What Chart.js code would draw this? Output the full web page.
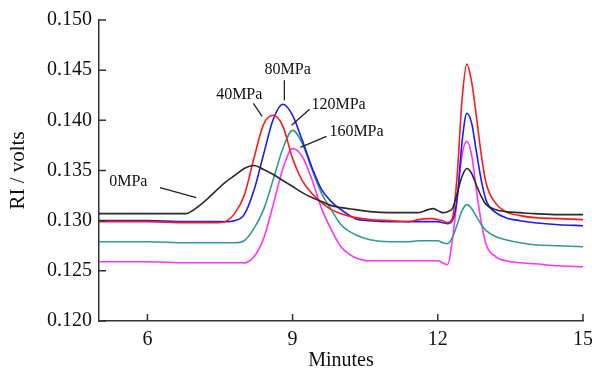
<!DOCTYPE html>
<html>
<head>
<meta charset="utf-8">
<script src="https://cdn.jsdelivr.net/npm/chart.js@4.4.1/dist/chart.umd.min.js"></script>
<style>
  html, body { margin: 0; padding: 0; background: #fff; }
  #wrap { width: 592px; height: 370px; }
</style>
</head>
<body>
<div id="wrap"><canvas id="chart" width="592" height="370"></canvas></div>
<script>
// retention time (minutes), shared by all traces
const minutes = [5, 6, 6.8, 6.9, 7.2, 7.4, 7.6, 7.8, 8.0, 8.2, 8.4, 8.6, 8.8, 9.0, 9.2, 9.4, 9.6, 9.8, 10.0,
  10.3, 10.6, 11.0, 11.4, 11.6, 11.8, 11.9, 12.0, 12.1, 12.2, 12.3, 12.4, 12.5, 12.6, 12.7, 12.8, 12.9,
  13.0, 13.2, 13.4, 13.7, 14.0, 14.5, 15];

// RI signal (volts) per pressure
const ri0 = [0.1307, 0.1307, 0.1307, 0.1309, 0.1320, 0.1329, 0.1338, 0.1345, 0.1352, 0.1355, 0.1351, 0.1346, 0.1340, 0.1334, 0.1328, 0.1323, 0.1319, 0.1315, 0.1313,
  0.1311, 0.1309, 0.1308, 0.1308, 0.1308, 0.1311, 0.1312, 0.1310, 0.1308, 0.1309, 0.1312, 0.1327, 0.1344, 0.1352, 0.1347, 0.1335, 0.1324,
  0.1316, 0.1311, 0.1309, 0.1308, 0.1307, 0.1306, 0.1306];
const ri40 = [0.1299, 0.1299, 0.1298, 0.1298, 0.1298, 0.1298, 0.1299, 0.1307, 0.1325, 0.1362, 0.1396, 0.1405, 0.1394, 0.1362, 0.1340, 0.1327, 0.1318, 0.1311, 0.1307,
  0.1303, 0.1301, 0.1300, 0.1299, 0.1301, 0.1302, 0.1302, 0.1301, 0.1300, 0.1298, 0.1302, 0.1345, 0.1420, 0.1456, 0.1438, 0.1403, 0.1365,
  0.1337, 0.1317, 0.1309, 0.1305, 0.1303, 0.1302, 0.1301];
const ri80 = [0.1300, 0.1300, 0.1299, 0.1299, 0.1299, 0.1299, 0.1299, 0.1300, 0.1306, 0.1330, 0.1366, 0.1401, 0.1416, 0.1405, 0.1380, 0.1353, 0.1331, 0.1319, 0.1311,
  0.1302, 0.1300, 0.1299, 0.1299, 0.1299, 0.1299, 0.1299, 0.1299, 0.1298, 0.1297, 0.1300, 0.1322, 0.1378, 0.1407, 0.1397, 0.1368, 0.1340,
  0.1320, 0.1308, 0.1303, 0.1300, 0.1298, 0.1296, 0.1295];
const ri120 = [0.1279, 0.1279, 0.1278, 0.1278, 0.1278, 0.1278, 0.1278, 0.1278, 0.1280, 0.1292, 0.1311, 0.1341, 0.1372, 0.1390, 0.1377, 0.1351, 0.1327, 0.1311, 0.1296,
  0.1286, 0.1281, 0.1279, 0.1279, 0.1280, 0.1280, 0.1280, 0.1280, 0.1278, 0.1277, 0.1283, 0.1296, 0.1310, 0.1316, 0.1312, 0.1304, 0.1296,
  0.1290, 0.1284, 0.1281, 0.1278, 0.1276, 0.1275, 0.1274];
const ri160 = [0.1259, 0.1259, 0.1258, 0.1258, 0.1258, 0.1258, 0.1258, 0.1258, 0.1258, 0.1264, 0.1282, 0.1316, 0.1352, 0.1372, 0.1364, 0.1341, 0.1312, 0.1291, 0.1274,
  0.1263, 0.1260, 0.1260, 0.1260, 0.1260, 0.1260, 0.1260, 0.1260, 0.1258, 0.1256, 0.1280, 0.1322, 0.1365, 0.1379, 0.1365, 0.1330, 0.1298,
  0.1276, 0.1264, 0.1260, 0.1258, 0.1257, 0.1255, 0.1254];

const seriesNames = ['0MPa', '40MPa', '80MPa', '120MPa', '160MPa'];
const seriesColors = ['#2b2b2b', '#ff1a1a', '#1a1aff', '#339a96', '#ff33ff'];
const xTickValues = [6, 9, 12, 15];

// label text position and leader line, in data units
const callouts = [
  { text: '0MPa',   tx: 5.21, ty: 0.1339, from: [6.26, 0.1333], to: [7.01, 0.1323] },
  { text: '40MPa',  tx: 7.42, ty: 0.1425, from: [8.19, 0.1417], to: [8.37, 0.1404] },
  { text: '80MPa',  tx: 8.42, ty: 0.1450, from: [8.83, 0.1440], to: [8.83, 0.1420] },
  { text: '120MPa', tx: 9.39, ty: 0.1415, from: [9.35, 0.1411], to: [8.98, 0.1395] },
  { text: '160MPa', tx: 9.76, ty: 0.1389, from: [9.70, 0.1384], to: [9.16, 0.1373] }
];

const serif = "'Liberation Serif', 'Times New Roman', serif";
const axisColor = '#333';

const traces = [ri0, ri40, ri80, ri120, ri160];
const datasets = traces.map((vals, i) => ({
  label: seriesNames[i],
  data: minutes.map((m, j) => ({ x: m, y: vals[j] })),
  borderColor: seriesColors[i],
  borderWidth: 1.6,
  pointRadius: 0,
  cubicInterpolationMode: 'monotone',
  fill: false
}));

// small ticks drawn inside the plot, like the original figure
const innerTicks = {
  id: 'innerTicks',
  afterDraw(chart) {
    const { ctx, scales: { x, y }, chartArea } = chart;
    ctx.save();
    ctx.strokeStyle = axisColor;
    ctx.lineWidth = 1.5;
    ctx.beginPath();
    x.ticks.forEach(t => {
      const px = x.getPixelForValue(t.value);
      ctx.moveTo(px, chartArea.bottom);
      ctx.lineTo(px, chartArea.bottom - 7);
    });
    y.ticks.forEach(t => {
      const py = y.getPixelForValue(t.value);
      ctx.moveTo(chartArea.left, py);
      ctx.lineTo(chartArea.left + 7, py);
    });
    ctx.stroke();
    ctx.restore();
  }
};

const calloutLabels = {
  id: 'calloutLabels',
  afterDatasetsDraw(chart) {
    const { ctx, scales: { x, y } } = chart;
    ctx.save();
    ctx.strokeStyle = '#222';
    ctx.lineWidth = 1.3;
    ctx.fillStyle = '#111';
    ctx.font = '16px ' + serif;
    ctx.textAlign = 'left';
    ctx.textBaseline = 'middle';
    callouts.forEach(c => {
      ctx.beginPath();
      ctx.moveTo(x.getPixelForValue(c.from[0]), y.getPixelForValue(c.from[1]));
      ctx.lineTo(x.getPixelForValue(c.to[0]), y.getPixelForValue(c.to[1]));
      ctx.stroke();
      ctx.fillText(c.text, x.getPixelForValue(c.tx), y.getPixelForValue(c.ty));
    });
    ctx.restore();
  }
};

new Chart(document.getElementById('chart'), {
  type: 'line',
  data: { datasets },
  options: {
    responsive: false,
    animation: false,
    layout: { padding: { top: 20, right: 9, left: 0, bottom: 0 } },
    plugins: {
      legend: { display: false },
      tooltip: { enabled: false }
    },
    scales: {
      x: {
        type: 'linear',
        min: 5,
        max: 15,
        afterBuildTicks: scale => {
          scale.ticks = xTickValues.map(v => ({ value: v }));
        },
        afterFit: scale => {
          scale.height = 49;
          scale.paddingLeft = 0;
          scale.paddingRight = 0;
        },
        grid: { drawOnChartArea: false, drawTicks: false },
        border: { display: true, color: axisColor, width: 1.5 },
        ticks: {
          color: '#111',
          padding: 7,
          maxRotation: 0,
          font: { family: serif, size: 20 }
        },
        title: {
          display: true,
          text: 'Minutes',
          color: '#111',
          padding: 0,
          font: { family: serif, size: 20, lineHeight: 0.9 }
        }
      },
      y: {
        min: 0.120,
        max: 0.150,
        afterFit: scale => {
          scale.width = 99;
          scale.paddingTop = 0;
          scale.paddingBottom = 0;
        },
        grid: { drawOnChartArea: false, drawTicks: false },
        border: { display: true, color: axisColor, width: 1.5 },
        ticks: {
          stepSize: 0.005,
          color: '#111',
          padding: 7,
          font: { family: serif, size: 20 },
          callback: v => v.toFixed(3)
        },
        title: {
          display: true,
          text: 'RI / volts',
          color: '#111',
          padding: { top: 8, bottom: 0 },
          font: { family: serif, size: 21, lineHeight: 1 }
        }
      }
    }
  },
  plugins: [innerTicks, calloutLabels]
});
</script>
</body>
</html>
